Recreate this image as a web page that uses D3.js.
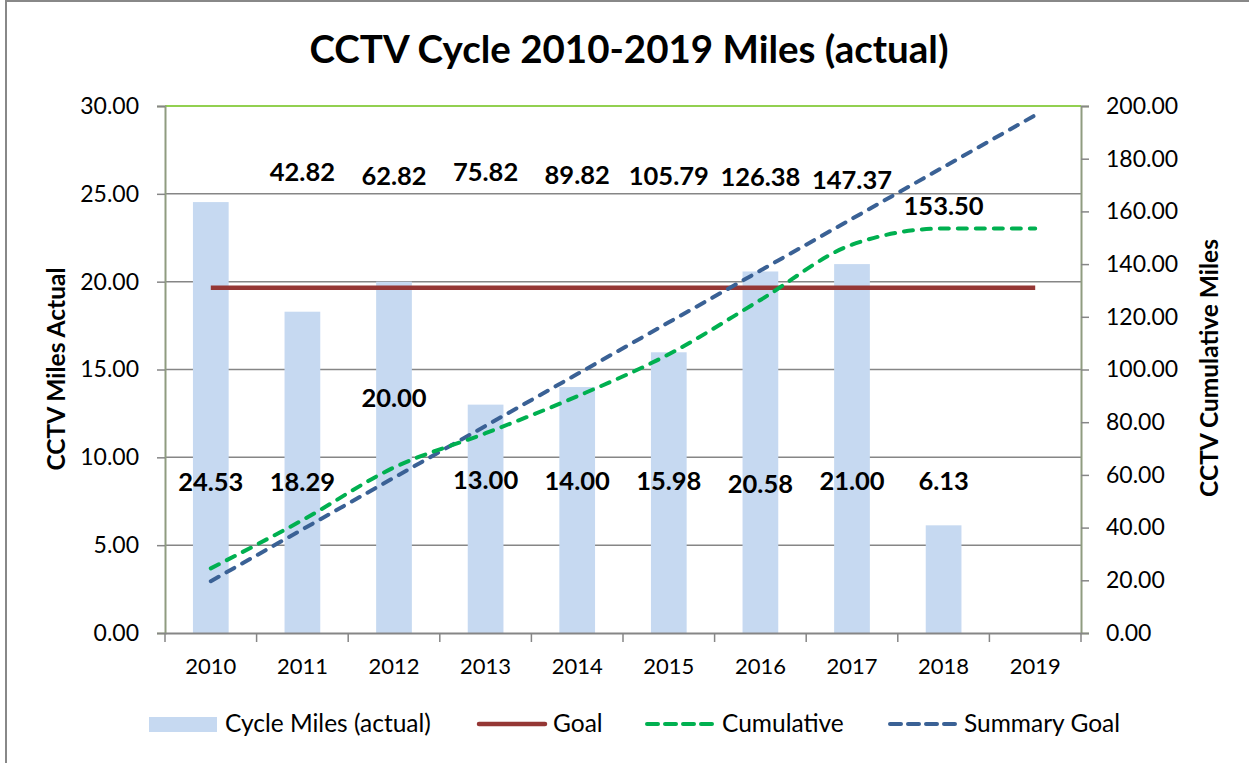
<!DOCTYPE html>
<html>
<head>
<meta charset="utf-8">
<script src="https://cdn.jsdelivr.net/npm/d3@7"></script>
<style>
  body { margin: 0; background: #fff; }
  text { font-family: Lato, "Open Sans", sans-serif; fill: #000; }
</style>
</head>
<body>
<script>
// values
const years = ["2010","2011","2012","2013","2014","2015","2016","2017","2018","2019"];
const cycleMiles = [24.53, 18.29, 20.00, 13.00, 14.00, 15.98, 20.58, 21.00, 6.13, null];
const goal = 19.65;
const cumulative = [24.53, 42.82, 62.82, 75.82, 89.82, 105.79, 126.38, 147.37, 153.50, 153.50];
const summaryGoal = [19.65, 39.30, 58.95, 78.60, 98.25, 117.90, 137.55, 157.20, 176.85, 196.50];
// where Excel left the data labels (label centre, in axis units)
const barLabelAt = [8.6, 8.6, 13.4, 8.7, 8.65, 8.65, 8.5, 8.65, 8.65, null];
const cumLabelAt = [null, 175, 173.4, 175, 173.8, 173.4, 173, 172, 162, null];

const leftTicks = d3.range(0, 30.01, 5);
const rightTicks = d3.range(0, 200.01, 20);

const W = 1249, H = 763;
const m = {left: 165, right: 1081, top: 106, bottom: 633};

const svg = d3.select("body").append("svg")
    .attr("width", W).attr("height", H);

// chart frame
svg.append("rect")
    .attr("x", 6).attr("y", 1)
    .attr("width", W + 10).attr("height", H + 10)
    .attr("fill", "none").attr("stroke", "#888").attr("stroke-width", 2);

const x = d3.scaleBand().domain(years).range([m.left, m.right]).paddingInner(0);
const yL = d3.scaleLinear().domain([0, 30]).range([m.bottom, m.top]);
const yR = d3.scaleLinear().domain([0, 200]).range([m.bottom, m.top]);
const cx = d => x(d) + x.bandwidth() / 2;

// gridlines
svg.append("g").selectAll("line")
  .data(leftTicks.filter(t => t > 0 && t < 30))
  .join("line")
    .attr("x1", m.left).attr("x2", m.right)
    .attr("y1", d => yL(d)).attr("y2", d => yL(d))
    .attr("stroke", "#868686").attr("stroke-width", 1.5);

// top border of plot
svg.append("line")
    .attr("x1", m.left).attr("x2", m.right)
    .attr("y1", m.top).attr("y2", m.top)
    .attr("stroke", "#92d050").attr("stroke-width", 2);

// bars
const barW = x.bandwidth() * 0.39;
svg.append("g").selectAll("rect")
  .data(years.map((y, i) => ({y, v: cycleMiles[i]})).filter(d => d.v != null))
  .join("rect")
    .attr("x", d => cx(d.y) - barW / 2)
    .attr("width", barW)
    .attr("y", d => yL(d.v))
    .attr("height", d => yL(0) - yL(d.v))
    .attr("fill", "#c6d9f1");

// goal
svg.append("line")
    .attr("x1", cx(years[0])).attr("x2", cx(years[years.length - 1]))
    .attr("y1", yL(goal)).attr("y2", yL(goal))
    .attr("stroke", "#953735").attr("stroke-width", 4.5);

// cumulative & summary goal
svg.append("path")
    .datum(summaryGoal)
    .attr("fill", "none").attr("stroke", "#3a6195").attr("stroke-width", 4)
    .attr("stroke-dasharray", "9,9").attr("stroke-linecap", "round")
    .attr("d", d3.line().x((d, i) => cx(years[i])).y(d => yR(d)));

svg.append("path")
    .datum(cumulative)
    .attr("fill", "none").attr("stroke", "#00b050").attr("stroke-width", 4)
    .attr("stroke-dasharray", "9,9").attr("stroke-linecap", "round")
    .attr("d", d3.line().curve(d3.curveMonotoneX)
      .x((d, i) => cx(years[i])).y(d => yR(d)));

// axes
const axisCol = "#8f9c80";
const gL = svg.append("g").attr("transform", `translate(${m.left},0)`)
  .call(d3.axisLeft(yL).tickValues(leftTicks).tickFormat(d3.format(".2f")).tickSize(8).tickPadding(18));
const gR = svg.append("g").attr("transform", `translate(${m.right},0)`)
  .call(d3.axisRight(yR).tickValues(rightTicks).tickFormat(d3.format(".2f")).tickSize(8).tickPadding(17));
[gL, gR].forEach(g => {
  g.select(".domain").attr("stroke", axisCol).attr("stroke-width", 2);
  g.selectAll(".tick line").attr("stroke", "#868686").attr("stroke-width", 1.5);
  g.selectAll(".tick text").attr("font-size", 23).attr("font-family", "Lato").attr("fill", "#000");
});

const gX = svg.append("g").attr("transform", `translate(0,${m.bottom})`)
  .call(d3.axisBottom(x).tickSize(0).tickPadding(25));
gX.select(".domain").attr("stroke", "#868686").attr("stroke-width", 2);
gX.selectAll(".tick text").attr("font-size", 22).attr("font-family", "Lato").attr("fill", "#000");
gX.append("g").selectAll("line")
  .data(years.map(y => x(y)).concat([m.right]))
  .join("line")
    .attr("x1", d => d).attr("x2", d => d)
    .attr("y1", 0).attr("y2", 9)
    .attr("stroke", "#868686").attr("stroke-width", 1.5);

// data labels
svg.append("g").selectAll("text")
  .data(years.map((y, i) => ({y, v: cycleMiles[i], at: barLabelAt[i]})).filter(d => d.v != null))
  .join("text")
    .attr("x", d => cx(d.y)).attr("y", d => yL(d.at)).attr("dy", "0.36em")
    .attr("text-anchor", "middle").attr("font-weight", "bold").attr("font-size", 25.5)
    .text(d => d3.format(".2f")(d.v));

svg.append("g").selectAll("text")
  .data(years.map((y, i) => ({y, v: cumulative[i], at: cumLabelAt[i]})).filter(d => d.at != null))
  .join("text")
    .attr("x", d => cx(d.y)).attr("y", d => yR(d.at)).attr("dy", "0.36em")
    .attr("text-anchor", "middle").attr("font-weight", "bold").attr("font-size", 25.5)
    .text(d => d3.format(".2f")(d.v));

// titles
svg.append("text")
    .attr("x", 629).attr("y", 63)
    .attr("text-anchor", "middle").attr("font-weight", "bold").attr("font-size", 38.5)
    .text("CCTV Cycle 2010-2019 Miles (actual)");

svg.append("text")
    .attr("transform", "translate(65,369) rotate(-90)")
    .attr("text-anchor", "middle").attr("font-weight", "bold").attr("font-size", 24.5)
    .text("CCTV Miles Actual");

svg.append("text")
    .attr("transform", "translate(1218,368) rotate(-90)")
    .attr("text-anchor", "middle").attr("font-weight", "bold").attr("font-size", 24.5)
    .text("CCTV Cumulative Miles");

// legend
const ly = 724;
const lg = svg.append("g");
lg.append("rect").attr("x", 149).attr("y", ly - 7).attr("width", 68).attr("height", 15).attr("fill", "#c6d9f1");
lg.append("text").attr("x", 225).attr("y", ly + 8).attr("font-size", 24.5).text("Cycle Miles (actual)");
lg.append("line").attr("x1", 479).attr("x2", 545).attr("y1", ly).attr("y2", ly)
  .attr("stroke", "#953735").attr("stroke-width", 4.5).attr("stroke-linecap", "round");
lg.append("text").attr("x", 553).attr("y", ly + 8).attr("font-size", 24.5).text("Goal");
lg.append("line").attr("x1", 647).attr("x2", 715).attr("y1", ly).attr("y2", ly)
  .attr("stroke", "#00b050").attr("stroke-width", 4).attr("stroke-dasharray", "11,7").attr("stroke-linecap", "round");
lg.append("text").attr("x", 722).attr("y", ly + 8).attr("font-size", 24.5).text("Cumulative");
lg.append("line").attr("x1", 890).attr("x2", 957).attr("y1", ly).attr("y2", ly)
  .attr("stroke", "#3a6195").attr("stroke-width", 4).attr("stroke-dasharray", "11,7").attr("stroke-linecap", "round");
lg.append("text").attr("x", 964).attr("y", ly + 8).attr("font-size", 24.5).text("Summary Goal");
</script>
</body>
</html>
